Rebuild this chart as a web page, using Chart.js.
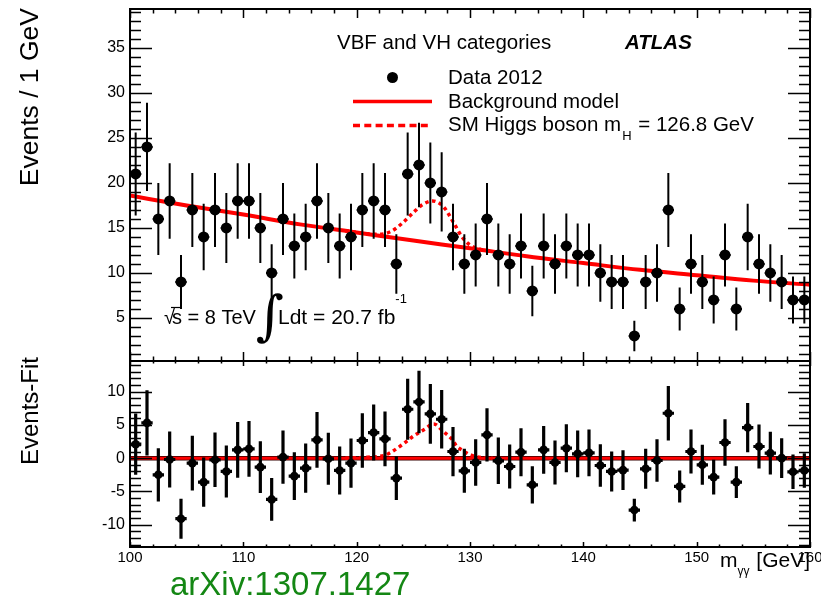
<!DOCTYPE html>
<html>
<head>
<meta charset="utf-8">
<script src="https://cdn.jsdelivr.net/npm/chart.js@4.4.1/dist/chart.umd.min.js"></script>
<style>
  body { margin: 0; background: #fff; }
  #wrap { position: relative; width: 821px; height: 603px; }
  #wrap canvas { position: absolute; left: 0; top: 0; }
</style>
</head>
<body>
<div id="wrap">
  <canvas id="main" width="821" height="603"></canvas>
  <canvas id="resid" width="821" height="603"></canvas>
</div>
<script>
// Data (1 GeV bins)
const massBins = [
  100.5, 101.5, 102.5, 103.5, 104.5, 105.5, 106.5, 107.5, 108.5, 109.5,
  110.5, 111.5, 112.5, 113.5, 114.5, 115.5, 116.5, 117.5, 118.5, 119.5,
  120.5, 121.5, 122.5, 123.5, 124.5, 125.5, 126.5, 127.5, 128.5, 129.5,
  130.5, 131.5, 132.5, 133.5, 134.5, 135.5, 136.5, 137.5, 138.5, 139.5,
  140.5, 141.5, 142.5, 143.5, 144.5, 145.5, 146.5, 147.5, 148.5, 149.5,
  150.5, 151.5, 152.5, 153.5, 154.5, 155.5, 156.5, 157.5, 158.5, 159.5
];
const eventCounts = [
  21, 24, 16, 18, 9, 17, 14, 17, 15, 18,
  18, 15, 10, 16, 13, 14, 18, 15, 13, 14,
  17, 18, 17, 11, 21, 22, 20, 19, 14, 11,
  12, 16, 12, 11, 13, 8, 13, 11, 13, 12,
  12, 10, 9, 9, 3, 9, 10, 17, 6, 11,
  9, 7, 12, 6, 14, 11, 10, 9, 7, 7
];
const countErrors = [
  4.6, 4.9, 4.0, 4.2, 3.0, 4.1, 3.7, 4.1, 3.9, 4.2,
  4.2, 3.9, 3.2, 4.0, 3.6, 3.7, 4.2, 3.9, 3.6, 3.7,
  4.1, 4.2, 4.1, 3.3, 4.6, 4.7, 4.5, 4.4, 3.7, 3.3,
  3.5, 4.0, 3.5, 3.3, 3.6, 2.8, 3.6, 3.3, 3.6, 3.5,
  3.5, 3.2, 3.0, 3.0, 1.7, 3.0, 3.2, 4.1, 2.4, 3.3,
  3.0, 2.6, 3.5, 2.4, 3.7, 3.3, 3.2, 3.0, 2.6, 2.6
];
const residuals = [
  2.1, 5.3, -2.5, -0.2, -9.1, -0.75, -3.6, -0.25, -2.0, 1.25,
  1.4, -1.35, -6.2, 0.15, -2.7, -1.5, 2.75, -0.1, -1.85, -0.75,
  2.65, 3.85, 2.9, -3.0, 7.35, 8.45, 6.65, 5.85, 1.0, -1.9,
  -0.65, 3.5, -0.4, -1.25, 0.9, -4.0, 1.25, -0.65, 1.5, 0.65,
  0.8, -1.1, -2.0, -1.8, -7.8, -1.6, -0.35, 6.75, -4.25, 1.0,
  -1.0, -2.85, 2.35, -3.6, 4.6, 1.75, 0.75, 0.0, -2.05, -1.85
];

// Background model curve
const bkgMass = [100, 105, 110, 115, 120, 125, 130, 135, 140, 145, 150, 155, 160];
const bkgValues = [18.6, 17.5, 16.5, 15.4, 14.5, 13.6, 12.75, 11.85, 11.1, 10.35, 9.75, 9.15, 8.7];

// Signal + background (dotted)
const sigMass = [119, 120, 121, 122, 123, 124, 125, 125.7, 126.7, 127.7, 128.5, 129.3, 130, 131, 132];
const sigValues = [14.7, 14.5, 14.35, 14.3, 14.6, 15.5, 16.7, 17.5, 18.0, 17.3, 15.7, 14.0, 13.1, 12.6, 12.4];

// Signal in the residual panel
const sigResMass = [119, 120, 121, 122, 122.6, 123, 124, 125, 126, 126.8, 127.65, 128.4, 128.8, 129.4, 130.1, 131, 132];
const sigResValues = [0, 0.05, 0.15, 0.25, 0.5, 0.85, 2.0, 3.3, 4.35, 5.15, 4.0, 2.85, 1.85, 1.1, 0.45, 0.1, 0];

const zeroLine = [0, 0];
const zeroMass = [100, 160];

const xTickLabels = [100, 110, 120, 130, 140, 150, 160];
const yTickLabelsMain = [5, 10, 15, 20, 25, 30, 35];
const yTickLabelsResid = [-10, -5, 0, 5, 10];

const FONT = '"Liberation Sans", Arial, Helvetica, sans-serif';
const RED = '#ff0000';

const toXY = (xs, ys) => xs.map((x, i) => ({ x: x, y: ys[i] }));

// ROOT-like frame with inside ticks on all four sides
const framePlugin = {
  id: 'frame',
  afterDatasetsDraw(chart, args, opts) {
    const { ctx, chartArea: a } = chart;
    const x = chart.scales.x, y = chart.scales.y;
    ctx.save();
    ctx.strokeStyle = '#000';
    ctx.lineWidth = 1.5;
    ctx.beginPath();
    for (let v = 100; v <= 160; v += 2) {
      const px = Math.round(x.getPixelForValue(v)) + 0.5;
      const len = v % 10 === 0 ? opts.xTick : opts.xTick / 2;
      ctx.moveTo(px, a.bottom); ctx.lineTo(px, a.bottom - len);
      ctx.moveTo(px, a.top); ctx.lineTo(px, a.top + len);
    }
    for (let v = Math.ceil(y.min); v <= y.max; v++) {
      const py = Math.round(y.getPixelForValue(v)) + 0.5;
      const len = v % 5 === 0 ? opts.yTick : opts.yTick / 2;
      ctx.moveTo(a.left, py); ctx.lineTo(a.left + len, py);
      ctx.moveTo(a.right, py); ctx.lineTo(a.right - len, py);
    }
    ctx.stroke();
    ctx.lineWidth = 2;
    ctx.strokeRect(a.left, a.top, a.right - a.left, a.bottom - a.top);

    ctx.fillStyle = '#000';
    ctx.font = '16px ' + FONT;
    ctx.textAlign = 'right';
    ctx.textBaseline = 'middle';
    opts.yLabels.forEach(v => ctx.fillText(String(v), 125, y.getPixelForValue(v)));
    if (opts.xLabels) {
      ctx.font = '15px ' + FONT;
      ctx.textAlign = 'center';
      ctx.textBaseline = 'alphabetic';
      opts.xLabels.forEach(v => ctx.fillText(String(v), x.getPixelForValue(v), 562));
    }
    ctx.restore();
  }
};

// vertical error bars (plus +-0.5 GeV horizontal bar) drawn under the markers
const errorBarPlugin = {
  id: 'errorBars',
  beforeDatasetDraw(chart, args) {
    const ds = chart.data.datasets[args.index];
    if (!ds.errors) return;
    const { ctx, chartArea: a } = chart;
    const xs = chart.scales.x, ys = chart.scales.y;
    ctx.save();
    ctx.beginPath();
    ctx.rect(a.left, a.top, a.right - a.left, a.bottom - a.top);
    ctx.clip();
    ctx.strokeStyle = '#000';
    ctx.lineWidth = ds.errorWidth;
    ctx.beginPath();
    ds.data.forEach((p, i) => {
      const px = xs.getPixelForValue(p.x);
      ctx.moveTo(px, ys.getPixelForValue(p.y - ds.errors[i]));
      ctx.lineTo(px, ys.getPixelForValue(p.y + ds.errors[i]));
      const py = ys.getPixelForValue(p.y);
      ctx.moveTo(xs.getPixelForValue(p.x - 0.5), py);
      ctx.lineTo(xs.getPixelForValue(p.x + 0.5), py);
    });
    ctx.stroke();
    ctx.restore();
  }
};

function text(ctx, str, x, y, font, align) {
  ctx.font = font;
  ctx.textAlign = align || 'left';
  ctx.fillText(str, x, y);
  return ctx.measureText(str).width;
}

const mainTextPlugin = {
  id: 'mainText',
  afterDraw(chart) {
    const ctx = chart.ctx;
    ctx.save();
    ctx.fillStyle = '#000';
    ctx.textBaseline = 'alphabetic';
    const f = '20.5px ' + FONT;
    text(ctx, 'VBF and VH categories', 337, 49, f);
    text(ctx, 'ATLAS', 625, 49, 'italic bold 20.5px ' + FONT);

    // legend
    ctx.beginPath();
    ctx.arc(392.5, 77.5, 5.5, 0, Math.PI * 2);
    ctx.fill();
    text(ctx, 'Data 2012', 448, 84, f);
    ctx.strokeStyle = RED;
    ctx.lineWidth = 3.5;
    ctx.beginPath(); ctx.moveTo(353, 101.5); ctx.lineTo(432, 101.5); ctx.stroke();
    text(ctx, 'Background model', 448, 107.5, f);
    ctx.setLineDash([7, 4.3]);
    ctx.beginPath(); ctx.moveTo(353, 125.5); ctx.lineTo(432, 125.5); ctx.stroke();
    ctx.setLineDash([]);
    let w = text(ctx, 'SM Higgs boson m', 448, 131, f);
    w += text(ctx, 'H', 448 + w + 1, 140, '13px ' + FONT) + 2;
    text(ctx, ' = 126.8 GeV', 448 + w, 131, f);

    // sqrt(s) and luminosity
    const g = '20px ' + FONT;
    text(ctx, '\u221A', 164, 324, g);
    const sw = text(ctx, 's', 172, 324, g);
    ctx.strokeStyle = '#000';
    ctx.lineWidth = 1.2;
    ctx.beginPath(); ctx.moveTo(171, 307.5); ctx.lineTo(172 + sw, 307.5); ctx.stroke();
    text(ctx, ' = 8 TeV', 172 + sw, 324, g);
    text(ctx, '\u222B', 256, 334, 'italic 54px "DejaVu Serif", serif');
    const lw = text(ctx, 'Ldt = 20.7 fb', 278, 324, '21px ' + FONT);
    text(ctx, '-1', 278 + lw, 303, '13px ' + FONT);

    // y title
    ctx.translate(38, 8);
    ctx.rotate(-Math.PI / 2);
    text(ctx, 'Events / 1 GeV', 0, 0, '26.5px ' + FONT, 'right');
    ctx.restore();
  }
};

const residTextPlugin = {
  id: 'residText',
  afterDraw(chart) {
    const ctx = chart.ctx;
    ctx.save();
    ctx.fillStyle = '#000';
    ctx.textBaseline = 'alphabetic';
    // x title, right-aligned at the frame
    const big = '21px ' + FONT, small = '12px ' + FONT;
    ctx.font = big;
    const w1 = ctx.measureText('m').width, w3 = ctx.measureText(' [GeV]').width;
    ctx.font = small;
    const w2 = ctx.measureText('\u03B3\u03B3').width + 1;
    const x0 = 810 - w1 - w2 - w3;
    text(ctx, 'm', x0, 567, big);
    text(ctx, '\u03B3\u03B3', x0 + w1, 575, small);
    text(ctx, ' [GeV]', x0 + w1 + w2, 567, big);

    ctx.fillStyle = 'rgb(20,135,20)';
    text(ctx, 'arXiv:1307.1427', 170, 595, '33px ' + FONT);

    ctx.fillStyle = '#000';
    ctx.translate(38, 357);
    ctx.rotate(-Math.PI / 2);
    text(ctx, 'Events-Fit', 0, 0, '24px ' + FONT, 'right');
    ctx.restore();
  }
};

Chart.defaults.font.family = FONT;

new Chart(document.getElementById('main'), {
  type: 'line',
  data: {
    datasets: [
      {
        label: 'Data 2012',
        type: 'scatter',
        data: toXY(massBins, eventCounts),
        errors: countErrors,
        errorWidth: 2,
        pointRadius: 5.5,
        pointBackgroundColor: '#000',
        pointBorderWidth: 0,
        showLine: false,
        order: 0
      },
      {
        label: 'Background model',
        data: toXY(bkgMass, bkgValues),
        borderColor: RED,
        borderWidth: 4,
        pointRadius: 0,
        cubicInterpolationMode: 'monotone',
        order: 1
      },
      {
        label: 'SM Higgs boson',
        data: toXY(sigMass, sigValues),
        borderColor: RED,
        borderWidth: 3.5,
        borderDash: [3.5, 3.5],
        pointRadius: 0,
        cubicInterpolationMode: 'monotone',
        order: 2
      }
    ]
  },
  options: {
    responsive: false,
    animation: false,
    devicePixelRatio: 1,
    layout: { padding: { left: 130, right: 11, top: 9, bottom: 242 } },
    scales: {
      x: { type: 'linear', min: 100, max: 160, display: false },
      y: { type: 'linear', min: 0.22, max: 39.33, display: false }
    },
    plugins: {
      legend: { display: false },
      tooltip: { enabled: false },
      frame: { xTick: 9, yTick: 22, yLabels: yTickLabelsMain }
    }
  },
  plugins: [errorBarPlugin, framePlugin, mainTextPlugin]
});

new Chart(document.getElementById('resid'), {
  type: 'line',
  data: {
    datasets: [
      {
        label: 'Events-Fit',
        type: 'scatter',
        data: toXY(massBins, residuals),
        errors: countErrors,
        errorWidth: 3.2,
        pointRadius: 4.3,
        pointBackgroundColor: '#000',
        pointBorderWidth: 0,
        showLine: false,
        order: 0
      },
      {
        label: 'zero',
        data: toXY(zeroMass, zeroLine),
        borderColor: RED,
        borderWidth: 3,
        pointRadius: 0,
        order: 1
      },
      {
        label: 'zero edge',
        data: toXY(zeroMass, zeroLine),
        borderColor: '#300',
        borderWidth: 4.5,
        pointRadius: 0,
        order: 3
      },
      {
        label: 'SM Higgs boson',
        data: toXY(sigResMass, sigResValues),
        borderColor: RED,
        borderWidth: 3.5,
        borderDash: [3.5, 3.5],
        pointRadius: 0,
        cubicInterpolationMode: 'monotone',
        order: 2
      }
    ]
  },
  options: {
    responsive: false,
    animation: false,
    devicePixelRatio: 1,
    layout: { padding: { left: 130, right: 11, top: 361, bottom: 56 } },
    scales: {
      x: { type: 'linear', min: 100, max: 160, display: false },
      y: { type: 'linear', min: -13.35, max: 14.6, display: false }
    },
    plugins: {
      legend: { display: false },
      tooltip: { enabled: false },
      frame: { xTick: 5, yTick: 22, yLabels: yTickLabelsResid, xLabels: xTickLabels }
    }
  },
  plugins: [errorBarPlugin, framePlugin, residTextPlugin]
});
</script>
</body>
</html>
